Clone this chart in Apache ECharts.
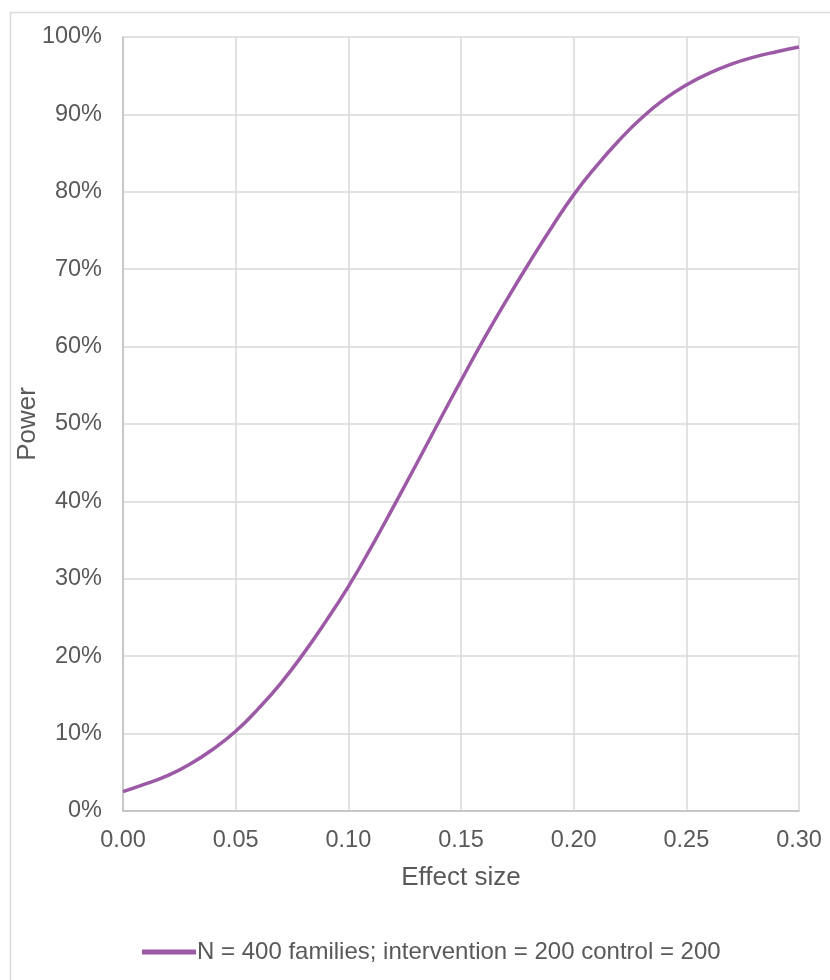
<!DOCTYPE html>
<html>
<head>
<meta charset="utf-8">
<script src="https://cdn.jsdelivr.net/npm/echarts@6/dist/echarts.min.js"></script>
<style>html,body{margin:0;padding:0;background:#fff}#c{width:830px;height:980px}</style>
</head>
<body>
<div id="c"></div>
<script>
var effectSize = [0.00,0.01,0.02,0.03,0.04,0.05,0.06,0.07,0.08,0.09,0.10,0.11,0.12,0.13,0.14,0.15,0.16,0.17,0.18,0.19,0.20,0.21,0.22,0.23,0.24,0.25,0.26,0.27,0.28,0.29,0.30];
var power = [0.025,0.035,0.046,0.061,0.080,0.103,0.132,0.165,0.203,0.245,0.290,0.340,0.393,0.447,0.502,0.556,0.609,0.659,0.707,0.753,0.796,0.833,0.866,0.895,0.919,0.938,0.953,0.965,0.974,0.981,0.987];
var seriesName = 'N = 400 families; intervention = 200 control = 200';
var xAxisTitle = 'Effect size';
var yAxisTitle = 'Power';

var font = 'Liberation Sans, Arial, sans-serif';
var txt = '#595959';
var chart = echarts.init(document.getElementById('c'), null, {renderer: 'canvas'});
chart.setOption({
  animation: false,
  backgroundColor: '#fff',
  graphic: [{
    type: 'rect', left: 8, top: 10, silent: true,
    shape: {x: 0, y: 0, width: 900, height: 1000},
    style: {fill: 'none', stroke: '#d9d9d9', lineWidth: 1.5}
  }],
  grid: {left: 123, right: 31, top: 37, bottom: 169, containLabel: false, outerBoundsMode: 'none'},
  xAxis: {
    type: 'value', min: 0, max: 0.3, interval: 0.05,
    name: xAxisTitle, nameLocation: 'middle', nameGap: 54, nameMoveOverlap: false,
    nameTextStyle: {color: txt, fontSize: 26, fontFamily: font},
    axisLine: {show: true, lineStyle: {color: '#bfbfbf', width: 1.5}},
    axisTick: {show: false},
    axisLabel: {color: txt, fontSize: 23.5, fontFamily: font, margin: 18,
      formatter: function (v) { return v.toFixed(2); }},
    splitLine: {show: true, lineStyle: {color: '#d9d9d9', width: 1.5}}
  },
  yAxis: {
    type: 'value', min: 0, max: 1, interval: 0.1,
    name: yAxisTitle, nameLocation: 'middle', nameGap: 82, nameRotate: 90, nameMoveOverlap: false,
    nameTextStyle: {color: txt, fontSize: 26, fontFamily: font},
    axisLine: {show: true, lineStyle: {color: '#bfbfbf', width: 1.5}},
    axisTick: {show: false},
    axisLabel: {color: txt, fontSize: 23.5, fontFamily: font, margin: 21,
      formatter: function (v) { return Math.round(v * 100) + '%'; }},
    splitLine: {show: true, lineStyle: {color: '#d9d9d9', width: 1.5}}
  },
  legend: {
    left: 137, top: 935, itemWidth: 54, itemHeight: 14, itemGap: 10,
    textStyle: {color: txt, fontSize: 24, fontFamily: font, padding: [0,0,0,-4]},
    data: [{name: seriesName, icon: 'path://M0,0 L54,0 L54,5 L0,5 Z'}]
  },
  series: [{
    name: seriesName, type: 'line', smooth: true, symbol: 'none',
    lineStyle: {color: '#9b59a6', width: 3.5},
    itemStyle: {color: '#9b59a6'},
    data: effectSize.map(function (x, i) { return [x, power[i]]; })
  }]
});
</script>
</body>
</html>
